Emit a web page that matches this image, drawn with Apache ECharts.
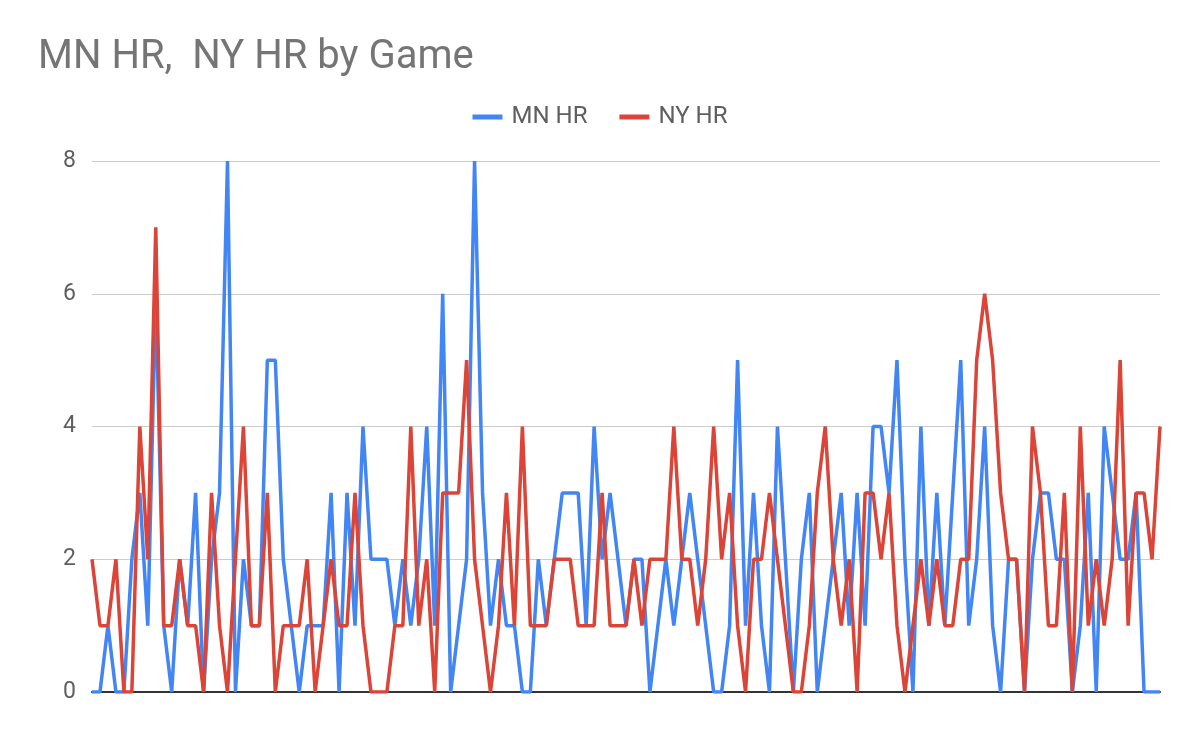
<!DOCTYPE html>
<html>
<head>
<meta charset="utf-8">
<script src="https://cdn.jsdelivr.net/npm/echarts@6/dist/echarts.min.js"></script>
<style>html,body{margin:0;padding:0;background:#fff;}#c{width:1200px;height:742px;}</style>
</head>
<body>
<div id="c"></div>
<script>
const titleText = 'MN HR,  NY HR by Game';
const seriesNames = ['MN HR', 'NY HR'];
const yTicks = [0, 2, 4, 6, 8];
const mnHR = [0,0,1,0,0,2,3,1,6,1,0,2,1,3,0,2,3,8,0,2,1,1,5,5,2,1,0,1,1,1,3,0,3,1,4,2,2,2,1,2,1,2,4,1,6,0,1,2,8,3,1,2,1,1,0,0,2,1,2,3,3,3,1,4,2,3,2,1,2,2,0,1,2,1,2,3,2,1,0,0,1,5,1,3,1,0,4,2,0,2,3,0,1,2,3,1,3,1,4,4,3,5,2,0,4,1,3,1,3,5,1,2,4,1,0,2,2,0,2,3,3,2,2,0,1,3,0,4,3,2,2,3,0,0,0];
const nyHR = [2,1,1,2,0,0,4,2,7,1,1,2,1,1,0,3,1,0,2,4,1,1,3,0,1,1,1,2,0,1,2,1,1,3,1,0,0,0,1,1,4,1,2,0,3,3,3,5,2,1,0,1,3,1,4,1,1,1,2,2,2,1,1,1,3,1,1,1,2,1,2,2,2,4,2,2,1,2,4,2,3,1,0,2,2,3,2,1,0,0,1,3,4,2,1,2,0,3,3,2,3,1,0,1,2,1,2,1,1,2,2,5,6,5,3,2,2,0,4,3,1,1,3,0,4,1,2,1,2,5,1,3,3,2,4];
const games = mnHR.map((_, i) => String(i + 1));

const chart = echarts.init(document.getElementById('c'), null, {renderer: 'canvas'});
chart.setOption({
  animation: false,
  backgroundColor: '#ffffff',
  color: ['#4285F4', '#DB4437'],
  title: {
    text: titleText,
    left: 33, top: 33,
    textStyle: {fontFamily: 'Roboto', fontSize: 40, fontWeight: 'normal', color: '#757575'}
  },
  legend: {
    data: seriesNames,
    top: 100, left: 'center',
    icon: 'rect', itemWidth: 30, itemHeight: 5, itemGap: 32,
    textStyle: {fontFamily: 'Roboto', fontSize: 24, color: '#5f5f5f', padding: [0, 0, 0, 4]}
  },
  grid: {left: 92, right: 40, top: 161, bottom: 50},
  xAxis: {
    type: 'category', data: games, boundaryGap: false,
    axisLine: {show: true, lineStyle: {color: '#333', width: 2}},
    axisTick: {show: false}, axisLabel: {show: false}, splitLine: {show: false}
  },
  yAxis: {
    type: 'value', min: yTicks[0], max: yTicks[yTicks.length - 1], interval: 2,
    axisLine: {show: false}, axisTick: {show: false},
    axisLabel: {fontFamily: 'Roboto', fontSize: 23, color: '#5f5f5f', margin: 16},
    splitLine: {lineStyle: {color: '#cccccc', width: 1}}
  },
  series: [
    {name: seriesNames[0], type: 'line', data: mnHR, showSymbol: false, lineStyle: {width: 3.5}, z: 2},
    {name: seriesNames[1], type: 'line', data: nyHR, showSymbol: false, lineStyle: {width: 3.5}, z: 3}
  ]
});
</script>
</body>
</html>
